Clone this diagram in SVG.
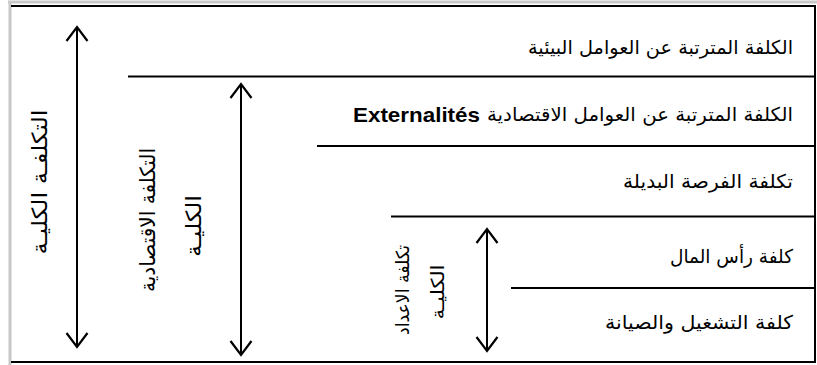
<svg xmlns="http://www.w3.org/2000/svg" width="817" height="365" viewBox="0 0 817 365">
<style>
.ln{stroke:#000;stroke-width:2;fill:none}
.ar{stroke:#000;stroke-width:2;fill:none;marker-start:url(#h);marker-end:url(#h)}
.t{font-family:"DejaVu Sans",sans-serif;font-size:19px;fill:#000;direction:rtl;text-anchor:start}
.v{font-family:"DejaVu Sans",sans-serif;font-size:21px;fill:#000;direction:rtl;text-anchor:middle}
.s{font-size:18px}
.b{font-family:"Liberation Sans",Arial,sans-serif;font-weight:bold;font-size:21px;fill:#000;text-anchor:end}
</style>
<defs>
<marker id="h" viewBox="-16 -12 18 24" refX="0" refY="0" markerWidth="18" markerHeight="24" markerUnits="userSpaceOnUse" orient="auto-start-reverse">
<path d="M-14,-10.5 L0,0 L-14,10.5" stroke="#000" stroke-width="2.2" fill="none"/>
</marker>
</defs>
<rect x="0" y="0" width="817" height="365" fill="#fff"/>
<g id="frame">
<line x1="8" y1="2" x2="817" y2="2" stroke="#c8c8c8" stroke-width="3"/>
<line x1="10" y1="2" x2="10" y2="365" stroke="#c8c8c8" stroke-width="3"/>
<line class="ln" x1="11" y1="6" x2="816" y2="6"/>
<line class="ln" x1="815" y1="6" x2="815" y2="362"/>
<line class="ln" x1="11" y1="362" x2="816" y2="362" stroke-width="2.5"/>
</g>
<g id="connectors">
<line class="ln" x1="128" y1="76.5" x2="815" y2="76.5"/>
<line class="ln" x1="317" y1="146" x2="815" y2="146"/>
<line class="ln" x1="391" y1="216.5" x2="815" y2="216.5"/>
<line class="ln" x1="511" y1="288" x2="815" y2="288"/>
<line class="ar" x1="77" y1="27" x2="77" y2="347"/>
<line class="ar" x1="241" y1="84" x2="241" y2="355"/>
<line class="ar" x1="487" y1="229" x2="487" y2="351"/>
</g>
<g id="n1"><text class="t" x="793" y="54" textLength="265" lengthAdjust="spacingAndGlyphs">الكلفة المترتبة عن العوامل البيئية</text></g>
<g id="n2"><text class="t" x="793" y="121" textLength="306" lengthAdjust="spacingAndGlyphs">الكلفة المترتبة عن العوامل الاقتصادية</text><text class="b" x="480" y="122" textLength="127" lengthAdjust="spacingAndGlyphs">Externalités</text></g>
<g id="n3"><text class="t" x="793" y="188" textLength="170" lengthAdjust="spacingAndGlyphs">تكلفة الفرصة البديلة</text></g>
<g id="n4"><text class="t" x="793" y="263" textLength="123" lengthAdjust="spacingAndGlyphs">كلفة رأس المال</text></g>
<g id="n5"><text class="t" x="793" y="329" textLength="188" lengthAdjust="spacingAndGlyphs">كلفة التشغيل والصيانة</text></g>
<g id="v1"><text class="v" transform="translate(47,182) rotate(-90)" textLength="145" lengthAdjust="spacingAndGlyphs">التكلفـة الكليـة</text></g>
<g id="v2"><text class="v" transform="translate(155,220) rotate(-90)" textLength="144" lengthAdjust="spacingAndGlyphs">التكلفة الاقتصادية</text></g>
<g id="v3"><text class="v" transform="translate(201,226) rotate(-90)" textLength="62" lengthAdjust="spacingAndGlyphs">الكليـة</text></g>
<g id="v4"><text class="v s" transform="translate(409,290) rotate(-90)" textLength="90" lengthAdjust="spacingAndGlyphs">تكلفة الاعداد</text></g>
<g id="v5"><text class="v s" transform="translate(444,292) rotate(-90)" textLength="55" lengthAdjust="spacingAndGlyphs">الكليـة</text></g>
</svg>
